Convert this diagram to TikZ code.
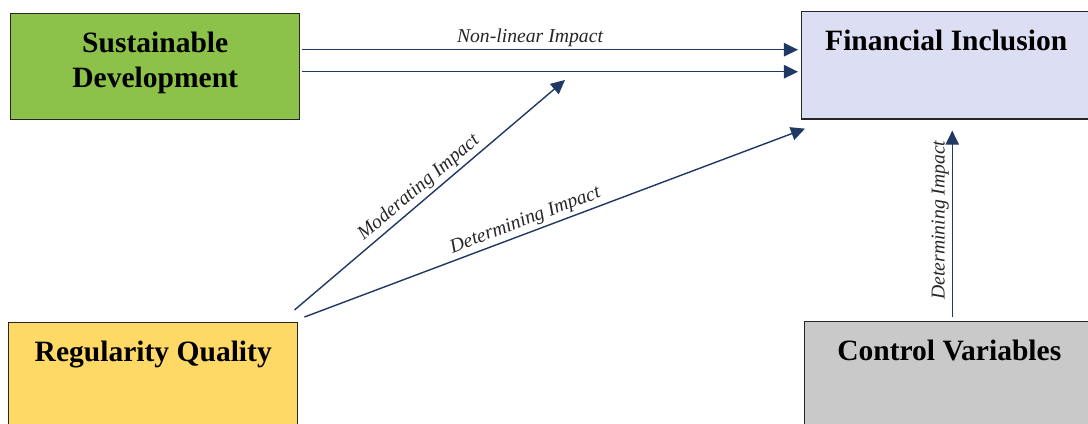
\documentclass[tikz,border=0pt]{standalone}
\usepackage{fontspec}
\setmainfont{Liberation Serif}
\usepackage{xcolor}
\usepackage{tikz}
\usetikzlibrary{arrows, arrows.meta, positioning}
\definecolor{sdgreen}{RGB}{140, 193, 74}
\definecolor{filavender}{RGB}{220, 223, 244}
\definecolor{rqyellow}{RGB}{255, 217, 102}
\definecolor{cvgray}{RGB}{201, 201, 201}
\definecolor{impactnavy}{RGB}{31, 56, 100}

\begin{document}
\begin{tikzpicture}[x=0.025cm, y=-0.025cm, node distance=0.46cm]
    % Styles
    \tikzstyle{box} = [rectangle, draw=black!85, line width=1pt, anchor=north west, minimum width=7.225cm, minimum height=2.68cm, inner sep=0pt]
    \tikzstyle{title} = [anchor=north, inner sep=0pt, align=center, font=\fontsize{21}{25}\selectfont\bfseries]
    \tikzstyle{arrow} = [line width=1pt, -{Triangle[length=10pt, width=9.5pt]}, impactnavy]
    \tikzstyle{impact} = [font=\fontsize{14}{16}\selectfont\itshape, text=black!85, inner sep=2pt, sloped, above]

    \useasboundingbox (0,0) rectangle (1088,423);

    % Boxes
    \node [box, fill=sdgreen, minimum height=2.65cm] (sd) at (10,13) {};
    \node [box, fill=filavender] (fi) at (801,11) {};
    \node [box, fill=rqyellow, minimum height=3cm] (rq) at (8,322) {};
    \node [box, fill=cvgray, minimum height=3cm] (cv) at (804,321) {};

    % Titles
    \node [title, below=of sd.north] (sdtext) {Sustainable\\Development};
    \node [title, below=of fi.north] (fitext) {Financial Inclusion};
    \node [title, below=of rq.north] (rqtext) {Regularity Quality};
    \node [title, below=of cv.north] (cvtext) {Control Variables};

    % Arrows
    \coordinate (modtip) at (565,80);
    \draw [arrow] ([xshift=0.03cm, yshift=0.425cm]sd.east) -- ([xshift=-0.075cm, yshift=0.425cm]fi.west |- sd.east) node [impact, pos=0.46] {Non-linear Impact};
    \draw [arrow] ([xshift=0.03cm, yshift=-0.125cm]sd.east) -- ([xshift=-0.075cm, yshift=-0.125cm]fi.west |- sd.east);
    \draw [arrow] ([xshift=-0.1cm, yshift=0.3cm]rq.north east) -- (modtip) node [impact, pos=0.49] {Moderating Impact};
    \draw [arrow] ([xshift=0.15cm, yshift=0.125cm]rq.north east) -- ([xshift=0.1cm, yshift=-0.225cm]fi.south west) node [impact, pos=0.45] {Determining Impact};
    \draw [arrow] ([xshift=0.075cm, yshift=0.1cm]cv.north) -- ([xshift=0.075cm, yshift=-0.275cm]cv.north |- fi.south) node [impact, pos=0.52] {Determining Impact};
\end{tikzpicture}
\end{document}
